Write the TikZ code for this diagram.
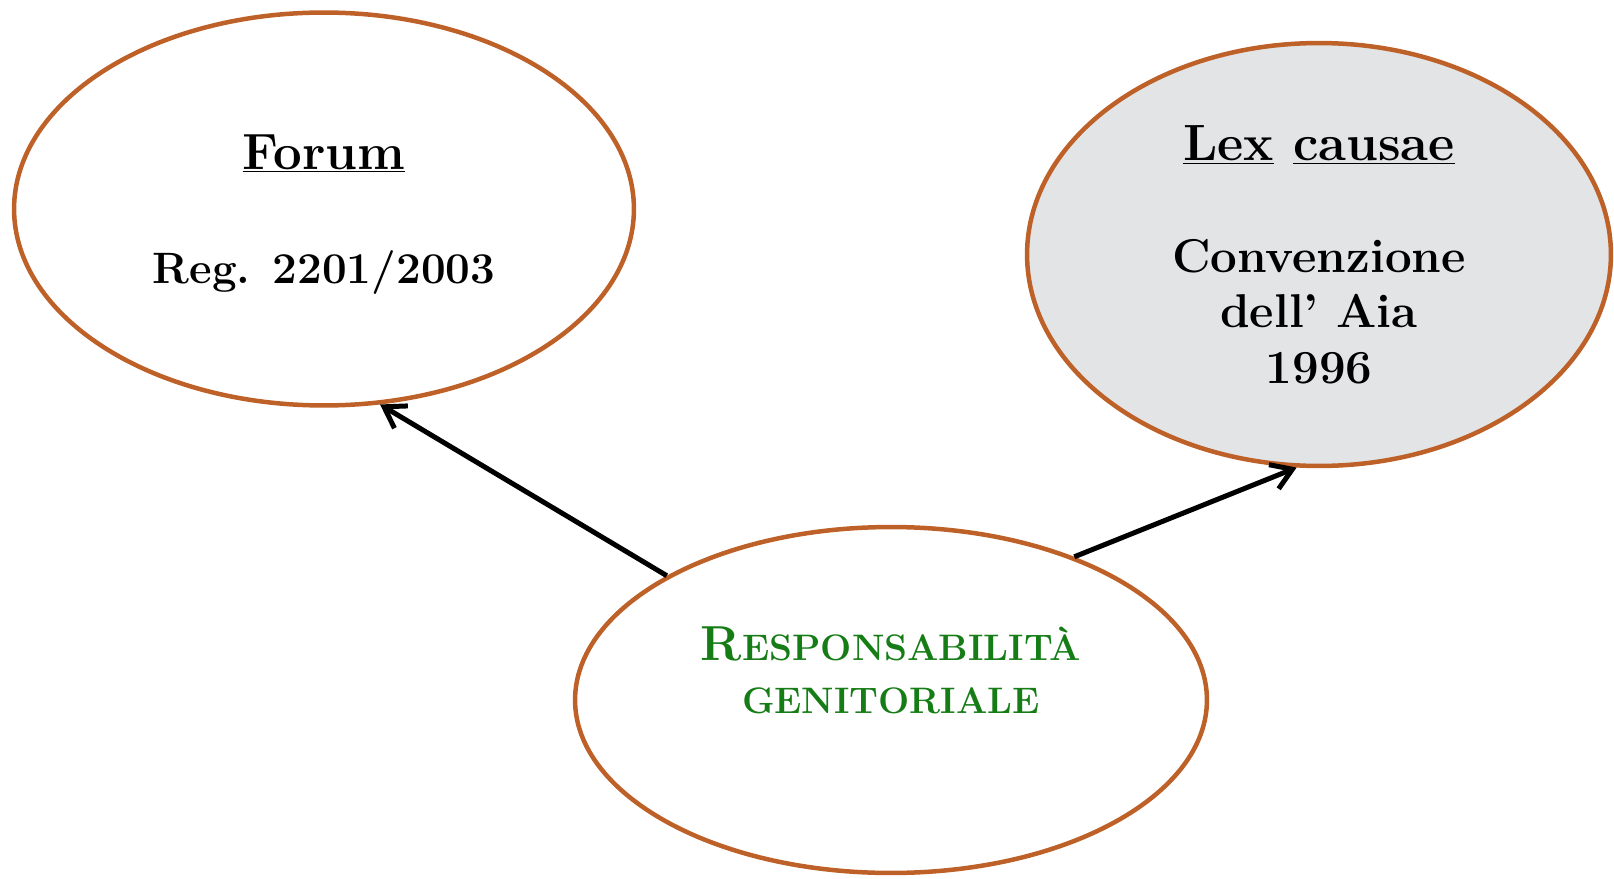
\documentclass[tikz,border=0pt]{standalone}
\usepackage{tikz}
\usetikzlibrary{positioning}
\usetikzlibrary{shapes.geometric}
\usetikzlibrary{arrows.meta}
\usepackage{xcolor}

\definecolor{bordo}{RGB}{190,97,40}
\definecolor{grigio}{RGB}{227,228,230}
\definecolor{verde}{RGB}{22,125,22}

\begin{document}
\begin{tikzpicture}[x=0.02cm, y=-0.02cm,
  bolla/.style={ellipse, draw=bordo, line width=0.09cm, inner sep=0pt, align=center},
  freccia/.style={-{Straight Barb[length=0.4cm, width=0.52cm, line width=0.1cm]}, line width=0.1cm, black}]

\useasboundingbox (0,0) rectangle (1614,879);

\node[bolla, minimum width=12.4cm, minimum height=7.86cm, text depth=0pt,
  font=\bfseries\fontsize{25}{30}\selectfont] (forum) at (324,209)
  {{\fontsize{29}{34}\selectfont\underline{Forum}}\\[1.24cm]
   Reg. 2201/2003};

\node[bolla, fill=grigio, minimum width=11.68cm, minimum height=8.46cm,
  font=\bfseries\fontsize{27}{31.5}\selectfont] (lex) at (1319,254.5)
  {{\fontsize{29}{34}\selectfont\underline{Lex} \underline{causae}}\\[1.14cm]
   Convenzione\\
   dell' Aia\\
   1996};

\node[bolla, minimum width=12.64cm, minimum height=6.92cm, text depth=1.2cm, text=verde,
  font=\bfseries\fontsize{21}{30}\selectfont] (resp) at (891,700)
  {{\fontsize{28}{33}\selectfont R}ESPONSABILITÀ\\
   GENITORIALE};

% frecce
\draw[freccia] (resp.151) -- (forum.-74.5);
\draw[freccia] (resp.38) -- (lex.-96);

\end{tikzpicture}
\end{document}
